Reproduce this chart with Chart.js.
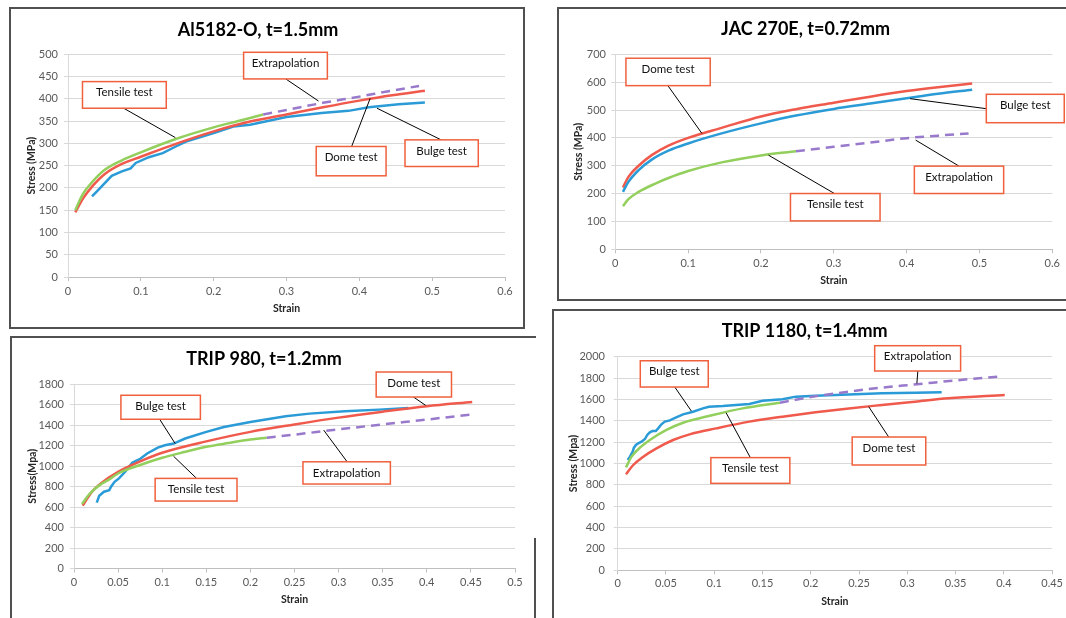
<!DOCTYPE html>
<html><head><meta charset="utf-8">
<script src="https://cdn.jsdelivr.net/npm/chart.js@4.4.0/dist/chart.umd.min.js"></script>
<style>
html,body{margin:0;padding:0;background:#fff;}
body{width:1066px;height:618px;position:relative;overflow:hidden;}
.frame{position:absolute;box-sizing:border-box;border:0 solid #505050;}
.cv{position:absolute;}
</style></head><body>
<div class="frame" style="left:9px;top:7px;width:516px;height:322px;border-width:2px;"></div>
<div class="frame" style="left:557px;top:7px;width:520px;height:294px;border-width:2px 0 2px 2px;"></div>
<div class="frame" style="left:10px;top:336px;width:526px;height:300px;border-width:2px 0 0 2px;"></div>
<div style="position:absolute;left:534px;top:538px;width:2px;height:80px;background:#505050;"></div>
<div class="frame" style="left:552px;top:309px;width:520px;height:320px;border-width:2px 0 0 2px;"></div>
<canvas id="c1" class="cv" width="511" height="317" style="left:11px;top:9px"></canvas>
<canvas id="c2" class="cv" width="507" height="290" style="left:559px;top:9px"></canvas>
<canvas id="c3" class="cv" width="520" height="279" style="left:13px;top:339px"></canvas>
<canvas id="c4" class="cv" width="511" height="306" style="left:555px;top:312px"></canvas>
<script>
// ---------- DATA ----------
// Al5182-O, t=1.5mm  [strain, stress MPa]
const alTensile = [[0.010,150],[0.020,185],[0.030,207],[0.050,240],[0.074,262],[0.100,280],[0.150,311],[0.200,336],[0.241,353],[0.268,365]];
const alExtrap  = [[0.268,365],[0.300,375],[0.350,391],[0.400,405],[0.440,417],[0.482,429]];
const alDome    = [[0.010,145],[0.021,177],[0.033,203],[0.051,232],[0.074,254],[0.100,270],[0.150,300],[0.200,327],[0.250,349],[0.300,365],[0.350,381],[0.400,396],[0.445,408],[0.490,418]];
const alBulge   = [[0.033,181],[0.042,196],[0.060,227],[0.074,237],[0.086,244],[0.093,256],[0.111,269],[0.130,278],[0.148,293],[0.162,304],[0.200,323],[0.227,338],[0.250,342],[0.300,359],[0.348,368],[0.385,373],[0.413,381],[0.454,388],[0.490,392]];
const alXTicks = [0,0.1,0.2,0.3,0.4,0.5,0.6];
const alXLabels = ['0','0.1','0.2','0.3','0.4','0.5','0.6'];
const alYTicks = [0,50,100,150,200,250,300,350,400,450,500];

// JAC 270E, t=0.72mm
const jacDome    = [[0.0105,222],[0.018,260],[0.032,300],[0.050,338],[0.073,372],[0.100,400],[0.146,436],[0.200,477],[0.248,503],[0.300,526],[0.350,548],[0.400,568],[0.443,582],[0.490,595]];
const jacBulge   = [[0.0105,206],[0.018,242],[0.032,284],[0.050,322],[0.073,354],[0.100,380],[0.146,416],[0.200,452],[0.248,480],[0.300,504],[0.350,523],[0.400,542],[0.443,558],[0.490,573]];
const jacTensile = [[0.0105,155],[0.018,180],[0.032,206],[0.055,236],[0.073,256],[0.100,281],[0.146,312],[0.200,337],[0.248,352]];
const jacExtrap  = [[0.248,352],[0.300,368],[0.350,383],[0.400,399],[0.443,408],[0.485,416]];
const jacXTicks = [0,0.1,0.2,0.3,0.4,0.5,0.6];
const jacXLabels = ['0','0.1','0.2','0.3','0.4','0.5','0.6'];
const jacYTicks = [0,100,200,300,400,500,600,700];

// TRIP 980, t=1.2mm
const t980Tensile = [[0.009,629],[0.018,730],[0.0286,811],[0.040,870],[0.050,927],[0.075,1010],[0.100,1080],[0.125,1136],[0.150,1187],[0.175,1224],[0.200,1258],[0.2185,1275]];
const t980Extrap  = [[0.2185,1275],[0.250,1306],[0.300,1357],[0.350,1406],[0.400,1453],[0.4495,1502]];
const t980Dome    = [[0.0098,613],[0.020,745],[0.030,828],[0.050,944],[0.075,1045],[0.100,1129],[0.150,1240],[0.200,1333],[0.250,1405],[0.300,1472],[0.350,1530],[0.400,1583],[0.4515,1625]];
const t980Bulge   = [[0.0258,642],[0.0286,710],[0.034,749],[0.040,765],[0.042,798],[0.046,846],[0.051,879],[0.058,944],[0.066,1031],[0.0756,1073],[0.083,1122],[0.095,1180],[0.103,1203],[0.113,1219],[0.126,1268],[0.150,1333],[0.170,1381],[0.200,1430],[0.240,1485],[0.267,1511],[0.307,1534],[0.346,1550],[0.379,1566]];
const t980XTicks = [0,0.05,0.1,0.15,0.2,0.25,0.3,0.35,0.4,0.45,0.5];
const t980XLabels = ['0','0.05','0.1','0.15','0.2','0.25','0.3','0.35','0.4','0.45','0.5'];
const t980YTicks = [0,200,400,600,800,1000,1200,1400,1600,1800];

// TRIP 1180, t=1.4mm
const t1180Tensile = [[0.0086,964],[0.0144,1064],[0.023,1148],[0.0333,1220],[0.0505,1314],[0.0677,1382],[0.0986,1454],[0.1295,1516],[0.168,1569]];
const t1180Extrap  = [[0.168,1569],[0.200,1622],[0.235,1668],[0.270,1707],[0.310,1742],[0.350,1778],[0.3933,1813]];
const t1180Dome    = [[0.0086,899],[0.0161,986],[0.0265,1064],[0.0402,1142],[0.0574,1220],[0.0745,1273],[0.102,1329],[0.1364,1392],[0.1707,1438],[0.205,1479],[0.2394,1516],[0.2738,1548],[0.308,1579],[0.3425,1610],[0.4009,1641]];
const t1180Bulge   = [[0.0103,1033],[0.0127,1064],[0.0155,1111],[0.0168,1148],[0.0189,1173],[0.0213,1189],[0.0247,1204],[0.0282,1229],[0.0306,1267],[0.0333,1292],[0.036,1304],[0.0395,1304],[0.0419,1329],[0.0453,1367],[0.0488,1392],[0.054,1404],[0.060,1429],[0.0677,1460],[0.078,1485],[0.0883,1516],[0.0945,1532],[0.1089,1538],[0.1226,1548],[0.1364,1557],[0.150,1588],[0.1707,1601],[0.1845,1626],[0.205,1635],[0.2394,1647],[0.2738,1657],[0.308,1663],[0.3356,1666]];
const t1180XTicks = [0,0.05,0.1,0.15,0.2,0.25,0.3,0.35,0.4,0.45];
const t1180XLabels = ['0','0.05','0.1','0.15','0.2','0.25','0.3','0.35','0.4','0.45'];
const t1180YTicks = [0,200,400,600,800,1000,1200,1400,1600,1800,2000];

// ---------- STYLE / LAYOUT ----------
const C = {blue:'#2a9bd6', red:'#ef5a4c', green:'#92cf5c', purple:'#9879cc'};
Chart.defaults.font.family = 'Lato, "Open Sans", sans-serif';
Chart.defaults.animation = false;

const annotPlugin = {
  id: 'annot',
  afterDatasetsDraw(chart, args, opts) {
    const {ctx} = chart; const x = chart.scales.x, y = chart.scales.y;
    ctx.save();
    for (const a of (opts.items || [])) {
      ctx.beginPath(); ctx.strokeStyle = '#000'; ctx.lineWidth = 1;
      ctx.moveTo(x.getPixelForValue(a.lead[0]), y.getPixelForValue(a.lead[1]));
      ctx.lineTo(x.getPixelForValue(a.lead[2]), y.getPixelForValue(a.lead[3]));
      ctx.stroke();
      const x0 = x.getPixelForValue(a.box[0]), x1 = x.getPixelForValue(a.box[1]);
      const y0 = y.getPixelForValue(a.box[2]), y1 = y.getPixelForValue(a.box[3]);
      ctx.fillStyle = '#fff'; ctx.fillRect(x0, y0, x1 - x0, y1 - y0);
      ctx.strokeStyle = '#f0603c'; ctx.lineWidth = 1.5; ctx.strokeRect(x0, y0, x1 - x0, y1 - y0);
      ctx.fillStyle = '#111'; ctx.font = '11.5px Lato, sans-serif';
      ctx.textAlign = 'center'; ctx.textBaseline = 'middle';
      ctx.fillText(a.text, (x0 + x1) / 2, y0 + 11);
    }
    ctx.restore();
  }
};

function ds(pts, color, dashed, jagged) {
  return {
    data: pts.map(p => ({x: p[0], y: p[1]})),
    borderColor: color, borderWidth: 2.5, pointRadius: 0,
    borderDash: dashed ? [9, 6] : [],
    cubicInterpolationMode: jagged ? 'default' : 'monotone',
    tension: jagged ? 0 : 0.4, fill: false
  };
}

function makeChart(id, o) {
  new Chart(document.getElementById(id), {
    type: 'line',
    data: {datasets: o.datasets},
    plugins: [annotPlugin],
    options: {
      responsive: false, animation: false,
      layout: {padding: {left: 0, top: 0, bottom: 0, right: o.L.right}},
      plugins: {
        legend: {display: false}, tooltip: {enabled: false},
        title: {display: true, text: o.title, color: '#000',
          font: {size: 18, weight: 'bold', lineHeight: 1.2},
          padding: {top: o.L.tTop, bottom: o.L.tBot}},
        annot: {items: o.annots}
      },
      scales: {
        x: {
          type: 'linear', min: 0, max: o.xTicks[o.xTicks.length - 1],
          afterBuildTicks: s => { s.ticks = o.xTicks.map(v => ({value: v})); },
          afterFit: s => { s.height = o.L.xH; },
          ticks: {autoSkip: false, maxRotation: 0, padding: o.L.xPad, color: '#595959', font: {size: 11},
            callback: (v, i) => o.xLabels[i]},
          grid: {drawOnChartArea: false, drawTicks: true, tickLength: 4, color: '#bfbfbf'},
          border: {color: '#bfbfbf', width: 1},
          title: {display: true, text: 'Strain', color: '#262626',
            font: {size: 10.5, weight: 'bold', lineHeight: 1.2}, padding: {top: 0, bottom: o.L.xtPad}}
        },
        y: {
          type: 'linear', min: 0, max: o.yTicks[o.yTicks.length - 1],
          afterBuildTicks: s => { s.ticks = o.yTicks.map(v => ({value: v})); },
          afterFit: s => { s.width = o.L.yW; },
          ticks: {padding: o.L.yPad, color: '#595959', font: {size: 11}, callback: v => String(v)},
          grid: {color: '#d9d9d9', drawTicks: true, tickLength: 4, tickColor: '#d9d9d9'},
          border: {color: '#d9d9d9', width: 1},
          title: {display: true, text: o.yTitle, color: '#262626',
            font: {size: 10.5, weight: 'bold', lineHeight: 1.2}, padding: {top: o.L.ytPad, bottom: 0}}
        }
      }
    }
  });
}

makeChart('c1', {
  title: 'Al5182-O, t=1.5mm', yTitle: 'Stress (MPa)',
  xTicks: alXTicks, xLabels: alXLabels, yTicks: alYTicks,
  datasets: [ds(alExtrap, C.purple, true), ds(alTensile, C.green), ds(alDome, C.red), ds(alBulge, C.blue, false, true)],
  L: {right: 17, tTop: 10, tBot: 13.7, xH: 49, yW: 57, xPad: 4, yPad: 6, xtPad: 10.7, ytPad: 14.4},
  annots: [
    {text: 'Tensile test', box: [0.0199, 0.1349, 438.7, 378.9], lead: [0.0765, 378.9, 0.1474, 313]},
    {text: 'Extrapolation', box: [0.2411, 0.3561, 504.5, 444.7], lead: [0.299, 444.7, 0.344, 395]},
    {text: 'Dome test', box: [0.3408, 0.4367, 293, 227.2], lead: [0.3894, 293, 0.4149, 401]},
    {text: 'Bulge test', box: [0.4627, 0.5633, 307.9, 248.1], lead: [0.5123, 307.9, 0.4242, 379]}
  ]
});

makeChart('c2', {
  title: 'JAC 270E, t=0.72mm', yTitle: 'Stress (MPa)',
  xTicks: jacXTicks, xLabels: jacXLabels, yTicks: jacYTicks,
  datasets: [ds(jacExtrap, C.purple, true), ds(jacTensile, C.green), ds(jacBulge, C.blue), ds(jacDome, C.red)],
  L: {right: 13.7, tTop: 9.5, tBot: 14.2, xH: 49.7, yW: 56.3, xPad: 4, yPad: 5.3, xtPad: 12, ytPad: 13},
  annots: [
    {text: 'Dome test', box: [0.0146, 0.1303, 685.9, 587.5], lead: [0.0722, 587.5, 0.1189, 416]},
    {text: 'Bulge test', box: [0.5094, 0.6164, 556.4, 454.4], lead: [0.5094, 504.8, 0.4047, 540.8]},
    {text: 'Extrapolation', box: [0.4106, 0.5332, 298.6, 200.2], lead: [0.4719, 298.6, 0.4124, 392]},
    {text: 'Tensile test', box: [0.2405, 0.3635, 200.2, 101.9], lead: [0.3009, 200.2, 0.2103, 338]}
  ]
});

makeChart('c3', {
  title: 'TRIP 980, t=1.2mm', yTitle: 'Stress(Mpa)',
  xTicks: t980XTicks, xLabels: t980XLabels, yTicks: t980YTicks,
  datasets: [ds(t980Extrap, C.purple, true), ds(t980Tensile, C.green), ds(t980Dome, C.red), ds(t980Bulge, C.blue, false, true)],
  L: {right: 18, tTop: 8.9, tBot: 14.5, xH: 49.5, yW: 61, xPad: 3.5, yPad: 6, xtPad: 11.7, ytPad: 13},
  annots: [
    {text: 'Dome test', box: [0.3426, 0.4280, 1917, 1673], lead: [0.3849, 1673, 0.3986, 1592]},
    {text: 'Bulge test', box: [0.0532, 0.1433, 1690, 1456], lead: [0.0971, 1456, 0.1147, 1219]},
    {text: 'Tensile test', box: [0.0920, 0.1848, 879, 658], lead: [0.1390, 879, 0.1128, 1096]},
    {text: 'Extrapolation', box: [0.2596, 0.3587, 1041, 824], lead: [0.3097, 1041, 0.2831, 1350]}
  ]
});

makeChart('c4', {
  title: 'TRIP 1180, t=1.4mm', yTitle: 'Stress (Mpa)',
  xTicks: t1180XTicks, xLabels: t1180XLabels, yTicks: t1180YTicks,
  datasets: [ds(t1180Extrap, C.purple, true), ds(t1180Tensile, C.green), ds(t1180Dome, C.red), ds(t1180Bulge, C.blue, false, true)],
  L: {right: 11.7, tTop: 8.2, tBot: 14.9, xH: 47.7, yW: 62.7, xPad: 3, yPad: 8.7, xtPad: 10, ytPad: 12},
  annots: [
    {text: 'Extrapolation', box: [0.2662, 0.3552, 2103, 1866], lead: [0.3109, 1866, 0.3099, 1750]},
    {text: 'Bulge test', box: [0.0234, 0.0938, 1962, 1716], lead: [0.0591, 1716, 0.0763, 1491]},
    {text: 'Tensile test', box: [0.0965, 0.1783, 1055, 814], lead: [0.1374, 1055, 0.1123, 1475]},
    {text: 'Dome test', box: [0.2429, 0.3191, 1248, 986], lead: [0.2807, 1248, 0.2600, 1532]}
  ]
});
</script>
</body></html>
